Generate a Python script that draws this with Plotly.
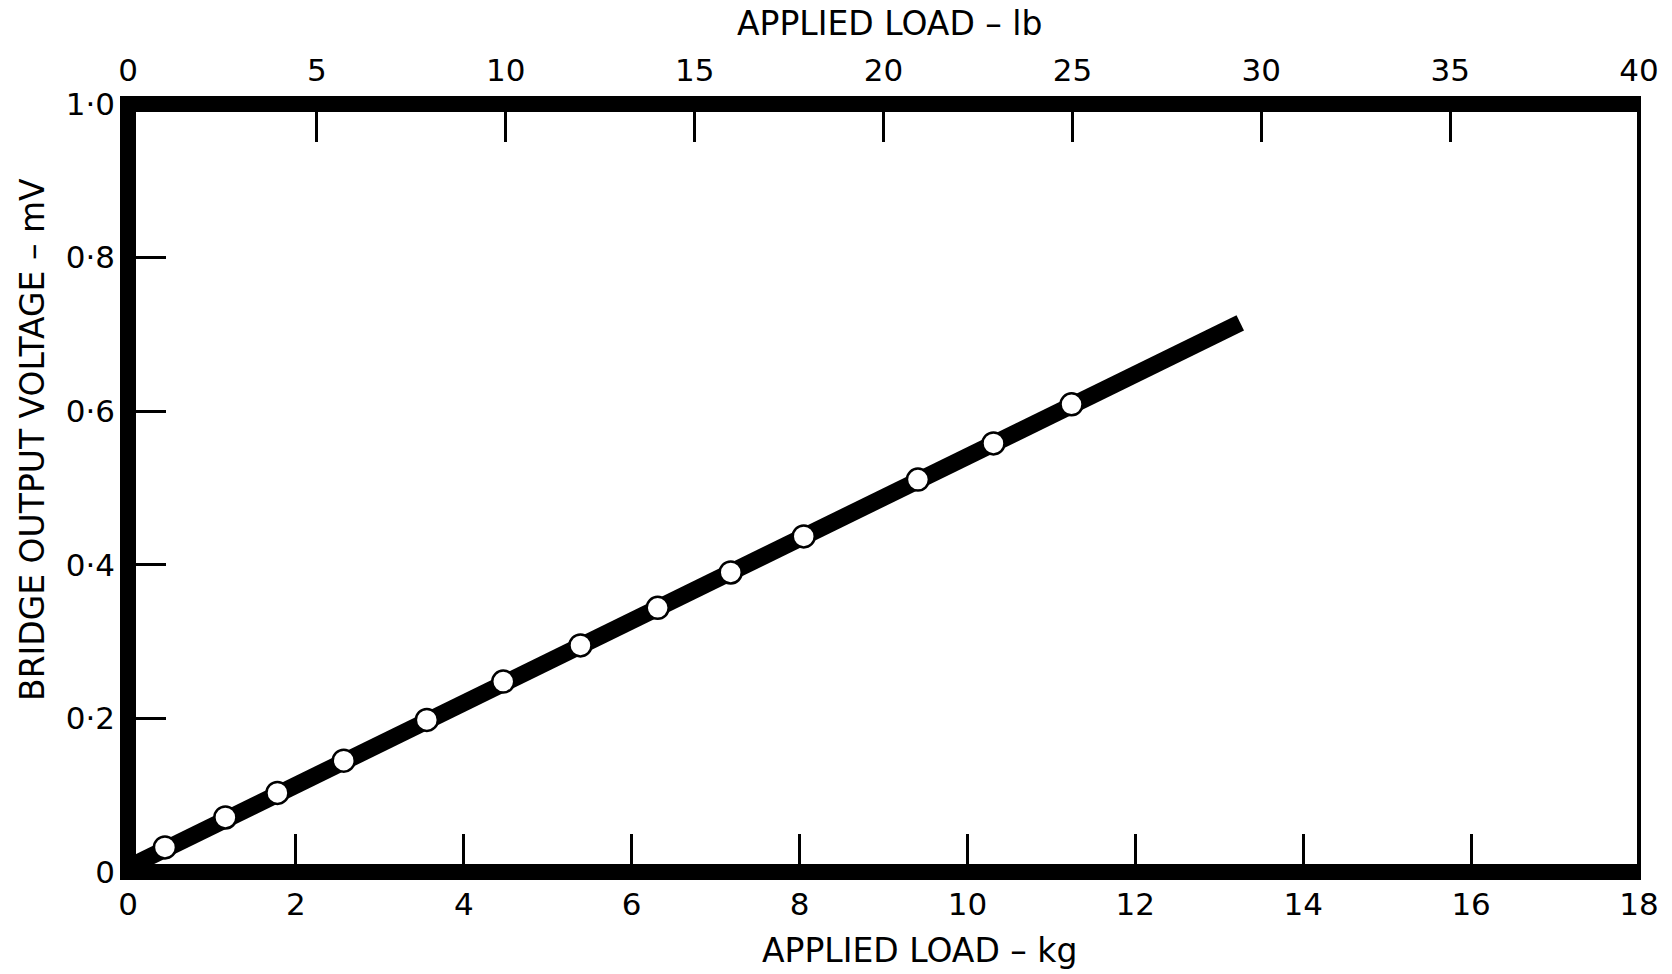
import plotly.graph_objects as go

# ---- data ----
load_kg = [0.44, 1.16, 1.78, 2.57, 3.56, 4.47, 5.39, 6.31, 7.18, 8.05, 9.41, 10.31, 11.24]
voltage_mv = [0.032, 0.071, 0.103, 0.145, 0.198, 0.248, 0.295, 0.344, 0.390, 0.437, 0.511, 0.558, 0.609]
fit_kg = [0.0, 13.25]
fit_mv = [0.006, 0.715]

kg_ticks = [0, 2, 4, 6, 8, 10, 12, 14, 16, 18]
lb_ticks = [0, 5, 10, 15, 20, 25, 30, 35, 40]
mv_ticks = [0, 0.2, 0.4, 0.6, 0.8, 1.0]
mv_labels = ["0", "0·2", "0·4", "0·6", "0·8", "1·0"]

W, H = 1672, 974
ML, MR, MT, MB = 128, 33, 104, 102
PW, PH = W - ML - MR, H - MT - MB
FONT = "DejaVu Sans"
FS = 31
TFS = 33

fig = go.Figure()
fig.add_trace(go.Scatter(x=fit_kg, y=fit_mv, mode="lines",
                         line=dict(color="black", width=17), hoverinfo="skip",
                         showlegend=False, cliponaxis=False))
fig.add_trace(go.Scatter(x=load_kg, y=voltage_mv, mode="markers",
                         marker=dict(size=22, color="white", line=dict(color="black", width=2.5)),
                         showlegend=False, cliponaxis=False))

thick = 16
ex = thick / 2 / PW
ey = thick / 2 / PH
shapes = [
    dict(type="line", xref="paper", yref="paper", x0=1, x1=1, y0=0, y1=1,
         line=dict(color="black", width=4)),
    dict(type="line", xref="paper", yref="paper", x0=-ex, x1=1 + 2 / PW, y0=0, y1=0,
         line=dict(color="black", width=thick)),
    dict(type="line", xref="paper", yref="paper", x0=-ex, x1=1 + 2 / PW, y0=1, y1=1,
         line=dict(color="black", width=thick)),
    dict(type="line", xref="paper", yref="paper", x0=0, x1=0, y0=-ey, y1=1 + ey,
         line=dict(color="black", width=thick)),
]

tickfont = dict(family=FONT, size=FS, color="black")
titlefont = dict(family=FONT, size=TFS, color="black")
fig.update_layout(
    width=W, height=H,
    margin=dict(l=ML, r=MR, t=MT, b=MB),
    paper_bgcolor="white", plot_bgcolor="white",
    shapes=shapes,
    xaxis=dict(range=[0, 18], tickvals=kg_ticks, ticktext=[str(v) for v in kg_ticks],
               ticks="inside", ticklen=38, tickwidth=3, tickcolor="black",
               showgrid=False, zeroline=False, showline=False, tickfont=tickfont,
               ticklabelstandoff=11, fixedrange=True),
    xaxis2=dict(range=[0, 40], overlaying="x", side="top", anchor="y",
                tickvals=lb_ticks, ticktext=[str(v) for v in lb_ticks],
                ticks="inside", ticklen=38, tickwidth=3, tickcolor="black",
                showgrid=False, zeroline=False, showline=False, tickfont=tickfont,
                ticklabelstandoff=16, fixedrange=True),
    yaxis=dict(range=[0, 1.0], tickvals=mv_ticks, ticktext=mv_labels,
               ticks="inside", ticklen=38, tickwidth=3, tickcolor="black",
               showgrid=False, zeroline=False, showline=False, tickfont=tickfont,
               ticklabelstandoff=12, fixedrange=True),
    annotations=[
        dict(text="APPLIED LOAD – lb", xref="paper", yref="paper", x=0.504, y=1,
             yanchor="middle", yshift=81, showarrow=False, font=titlefont),
        dict(text="APPLIED LOAD – kg", xref="paper", yref="paper", x=0.5235, y=0,
             yanchor="middle", yshift=-78, showarrow=False, font=titlefont),
        dict(text="BRIDGE OUTPUT VOLTAGE – mV", xref="paper", yref="paper", x=0, y=0.5625,
             xanchor="center", yanchor="middle", xshift=-96, textangle=-90,
             showarrow=False, font=titlefont),
    ],
)
# a blank trace so the top (lb) axis is rendered
fig.add_trace(go.Scatter(x=[], y=[], xaxis="x2", yaxis="y", showlegend=False))

fig.write_html("out.html")
